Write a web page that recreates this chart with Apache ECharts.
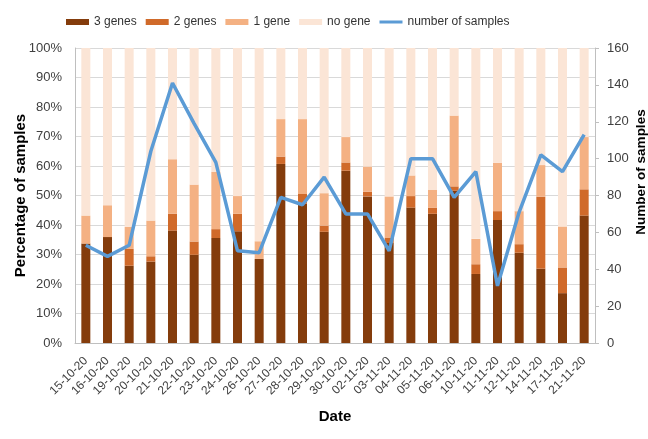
<!DOCTYPE html>
<html>
<head>
<meta charset="utf-8">
<script src="https://cdn.jsdelivr.net/npm/echarts@6/dist/echarts.min.js"></script>
<style>html,body{margin:0;padding:0;background:#fff}#c{width:648px;height:439px}</style>
</head>
<body>
<div id="c"></div>
<script>
var categories = ['15-10-20','16-10-20','19-10-20','20-10-20','21-10-20','22-10-20','23-10-20','24-10-20','26-10-20','27-10-20','28-10-20','29-10-20','30-10-20','02-11-20','03-11-20','04-11-20','05-11-20','06-11-20','10-11-20','11-11-20','12-11-20','14-11-20','17-11-20','21-11-20'];
var threeGenes = [33.7,35.9,26.2,27.6,38.1,29.9,35.6,37.9,28.5,60.7,47.2,37.7,58.4,49.7,33.9,45.9,43.8,51.6,23.4,41.7,30.6,25.2,16.9,43.2];
var twoGenes = [0,0,5.7,1.8,5.7,4.5,3.0,5.9,0,2.5,3.3,2.1,2.8,1.6,1.7,3.9,2.0,1.5,3.3,3.0,2.9,24.4,8.7,8.9];
var oneGene = [9.5,10.8,7.5,12.1,18.5,19.3,19.4,6.0,6.0,12.7,25.4,11.0,8.6,8.5,14.1,7.0,6.1,24.0,8.6,16.4,11.2,10.7,13.9,17.7];
var noGene = [56.8,53.3,60.6,58.5,37.7,46.3,42.0,50.2,65.5,24.1,24.1,49.2,30.2,40.2,50.3,43.2,48.1,22.9,64.7,38.9,55.3,39.7,60.5,30.2];
var samples = [53,47,53,104,141,119,98,50,49,79,75,90,70,70,50,100,100,79,93,31,71,102,93,113];
var percentTicks = {min:0, max:100, interval:10};
var sampleTicks = {min:0, max:160, interval:20};

var chart = echarts.init(document.getElementById('c'), null, {renderer:'canvas'});
var font = 'Liberation Sans, Arial, sans-serif';
var labelColor = '#404040';
function bar(name, data, color){
  return {name:name, type:'bar', stack:'s', data:data, barWidth:9,
    itemStyle:{color:color}, emphasis:{disabled:true}, yAxisIndex:0};
}
chart.setOption({
  animation:false,
  textStyle:{fontFamily:font},
  legend:{
    left:61, top:11, itemWidth:23, itemHeight:6, itemGap:9,
    textStyle:{fontFamily:font, fontSize:12, color:'#333'},
    data:[
      {name:'3 genes', icon:'rect'},
      {name:'2 genes', icon:'rect'},
      {name:'1 gene', icon:'rect'},
      {name:'no gene', icon:'rect'},
      {name:'number of samples', icon:'path://M0,0H23V3H0Z'}
    ]
  },
  grid:{left:75, right:53, top:48, bottom:96, containLabel:false, outerBoundsMode:'none'},
  xAxis:{
    type:'category', data:categories,
    name:'Date', nameLocation:'middle', nameGap:66, nameMoveOverlap:false,
    nameTextStyle:{fontWeight:'bold', fontSize:15, color:'#000', fontFamily:font},
    axisLine:{lineStyle:{color:'#BFBFBF'}},
    axisTick:{show:false},
    axisLabel:{rotate:45, fontSize:12, color:labelColor, margin:16, interval:0, fontFamily:font}
  },
  yAxis:[{
    type:'value', min:percentTicks.min, max:percentTicks.max, interval:percentTicks.interval,
    name:'Percentage of samples', nameLocation:'middle', nameGap:47, nameMoveOverlap:false,
    nameTextStyle:{fontWeight:'bold', fontSize:15, color:'#000', fontFamily:font},
    axisLine:{show:true, lineStyle:{color:'#BFBFBF'}},
    axisTick:{show:false},
    axisLabel:{formatter:'{value}%', fontSize:13, color:labelColor, margin:13, fontFamily:font},
    splitLine:{lineStyle:{color:'#D9D9D9'}}
  },{
    type:'value', min:sampleTicks.min, max:sampleTicks.max, interval:sampleTicks.interval,
    position:'right',
    axisLine:{show:true, lineStyle:{color:'#BFBFBF'}},
    axisTick:{show:true, length:4, lineStyle:{color:'#BFBFBF'}},
    axisLabel:{fontSize:13, color:labelColor, margin:12, fontFamily:font},
    splitLine:{show:false}
  }],
  graphic:[{
    type:'text', x:641, y:172, rotation:Math.PI/2,
    style:{text:'Number of samples', fill:'#000', font:'bold 13.5px Liberation Sans, Arial, sans-serif',
      textAlign:'center', textVerticalAlign:'middle'}
  }],
  series:[
    bar('3 genes', threeGenes, '#843C0C'),
    bar('2 genes', twoGenes, '#D06A2A'),
    bar('1 gene', oneGene, '#F4B183'),
    bar('no gene', noGene, '#FBE5D6'),
    {name:'number of samples', type:'line', yAxisIndex:1, data:samples,
     symbol:'none', z:5, lineStyle:{color:'#5B9BD5', width:3.5}, itemStyle:{color:'#5B9BD5'},
     emphasis:{disabled:true}}
  ]
});
</script>
</body>
</html>
